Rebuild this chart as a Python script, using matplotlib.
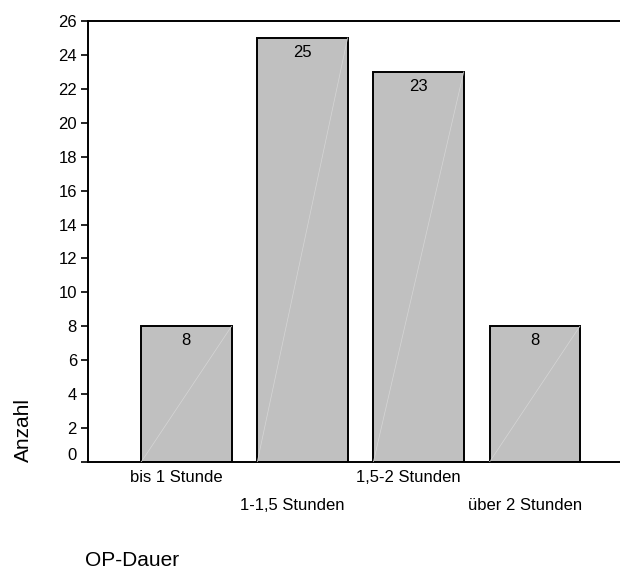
import numpy as np
import matplotlib
matplotlib.use('Agg')
import matplotlib.pyplot as plt
from matplotlib.transforms import ScaledTranslation

################

categories = ['bis 1 Stunde', '1-1,5 Stunden', '1,5-2 Stunden', 'über 2 Stunden']
counts = [8, 25, 23, 8]
y_ticks = list(range(0, 27, 2))

plt.rcParams['font.family'] = ['Liberation Sans', 'DejaVu Sans']

################

fig = plt.figure(figsize=(6.2, 5.69), dpi=100)
ax = fig.add_axes([88 / 620, 107 / 569, 1 - 88 / 620 + 0.01, (462 - 21) / 569])

x = np.arange(len(categories))
width = 0.778
bars = ax.bar(x, counts, width=width, color='#c0c0c0', edgecolor='black', linewidth=1.4, zorder=2)

# faint diagonal inside the bars
for xi, v in zip(x, counts):
    ax.plot([xi - width / 2, xi + width / 2], [0, v], color='#d6d6d6', lw=0.5, zorder=3)

for xi, v in zip(x, counts):
    ax.annotate(str(v), (xi, v), xytext=(0, -5), textcoords='offset points',
                ha='center', va='top', fontsize=12)

ax.set_xlim(-0.847, 3.735 + 0.01 * 620 / 116.3)
ax.set_ylim(0, 26)
ax.set_yticks(y_ticks)
ax.tick_params(axis='y', labelsize=12, length=5, width=1.2, direction='out', pad=3)
ax.set_xticks(x)
ax.set_xticklabels(categories, fontsize=12)
ax.tick_params(axis='x', length=0, pad=6)

# the zero label sits a bit higher
zero_lab = ax.get_yticklabels()[0]
zero_lab.set_transform(zero_lab.get_transform() + ScaledTranslation(0, 8 / 100, fig.dpi_scale_trans))

# staggered category labels
for i, lab in enumerate(ax.get_xticklabels()):
    dy = 0 if i % 2 == 0 else -28 / 100
    lab.set_transform(lab.get_transform() + ScaledTranslation(-10 / 100, dy, fig.dpi_scale_trans))

ax.spines['right'].set_visible(False)
for s in ['left', 'bottom', 'top']:
    ax.spines[s].set_linewidth(1.4)

fig.text(23 / 620, 1 - 430 / 569, 'Anzahl', rotation=90, ha='center', va='center', fontsize=15)
fig.text(85 / 620, 1 - 560 / 569, 'OP-Dauer', ha='left', va='center', fontsize=15)

plt.savefig('out.png', dpi=100)
